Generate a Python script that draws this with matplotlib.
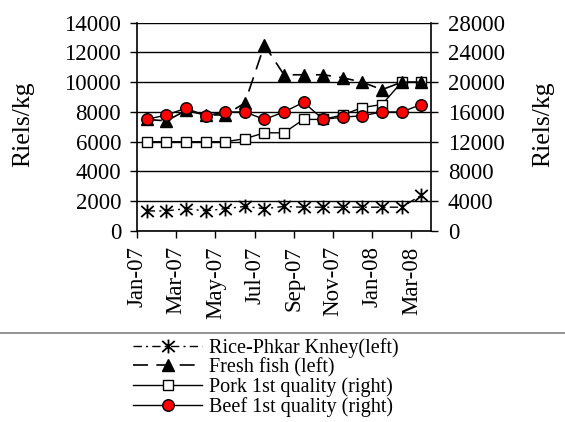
import matplotlib
matplotlib.use("Agg")
import matplotlib.pyplot as plt
from matplotlib.path import Path
from matplotlib.lines import Line2D
from matplotlib.transforms import ScaledTranslation
import numpy as np

# Data (Riels/kg), monthly Jan-07 .. Mar-08
months = ["Jan-07", "Feb-07", "Mar-07", "Apr-07", "May-07", "Jun-07", "Jul-07", "Aug-07",
          "Sep-07", "Oct-07", "Nov-07", "Dec-07", "Jan-08", "Feb-08", "Mar-08"]
tick_labels = ["Jan-07", "Mar-07", "May-07", "Jul-07", "Sep-07", "Nov-07", "Jan-08", "Mar-08"]

rice = [1350, 1350, 1500, 1350, 1500, 1650, 1500, 1650, 1600, 1600, 1600, 1600, 1600, 1600, 2400]
fish = [7500, 7400, 8100, 7800, 7800, 8600, 12500, 10500, 10500, 10500, 10300, 10000, 9500, 10000, 10000]
pork = [12000, 12000, 12000, 12000, 12000, 12400, 13200, 13200, 15000, 15000, 15600, 16600, 17000, 20000, 20000]
beef = [15000, 15600, 16500, 15500, 16000, 16000, 15000, 16000, 17300, 15000, 15300, 15500, 16000, 16000, 17000]

plt.rcParams["font.family"] = ["Liberation Serif", "DejaVu Serif"]

# asterisk marker: vertical bar + X
star = Path([(0, -1), (0, 1), (-0.9, -0.8), (0.9, 0.8), (-0.9, 0.8), (0.9, -0.8)],
            [Path.MOVETO, Path.LINETO, Path.MOVETO, Path.LINETO, Path.MOVETO, Path.LINETO])

x = np.arange(len(months))

fig = plt.figure(figsize=(5.65, 4.22), dpi=100)
ax = fig.add_axes([137 / 565, 1 - 231 / 422, (431 - 137) / 565, (231 - 22.7) / 422])
ax2 = ax.twinx()   # right axis, pork (bottom layer, grid)
ax3 = ax.twinx()   # right axis, beef (top layer)

ax2.set_zorder(1)
ax.set_zorder(2)
ax3.set_zorder(3)
ax.patch.set_visible(False)
ax3.patch.set_visible(False)

# Pork (right)
l_pork, = ax2.plot(x, pork, color="black", lw=1, marker="s", ms=7.5, mfc="white", mec="black", mew=1,
                   label="Pork 1st quality (right)")
# Fish & rice (left)
l_fish, = ax.plot(x, fish, color="black", lw=1.2, ls=(0, (9, 5)), marker="^", ms=8.5, mfc="black",
                  mec="black", label="Fresh fish (left)")
l_rice, = ax.plot(x, rice, color="black", lw=1, ls=(0, (6, 3, 1.5, 3)), marker=star, ms=10, mew=1.3,
                  mec="black", label="Rice-Phkar Knhey(left)")
# Beef (right)
l_beef, = ax3.plot(x, beef, color="black", lw=1, marker="o", ms=8.3, mfc="red", mec="black", mew=1,
                   label="Beef 1st quality (right)")

ax.set_xlim(-0.5, len(months) - 0.5)
ax.set_ylim(0, 14000)
ax.set_yticks(np.arange(0, 14001, 2000))
for a in (ax2, ax3):
    a.set_ylim(0, 28000)
ax2.set_yticks(np.arange(0, 28001, 4000))
ax3.axis("off")

ax2.grid(axis="y", color="black", lw=1)
ax.set_xticks(np.arange(-0.5, len(months) - 1, 2))
ax.set_xticklabels(tick_labels, rotation=90)
for lab in ax.get_xticklabels():
    lab.set_transform(lab.get_transform() + ScaledTranslation(-4 / 100, 0, fig.dpi_scale_trans))

for a in (ax, ax2):
    a.spines["top"].set_visible(False)
ax.spines["right"].set_visible(False)
ax2.spines["left"].set_visible(False)
ax2.spines["bottom"].set_visible(False)
for a in (ax, ax2):
    for s in a.spines.values():
        s.set_linewidth(1.2)

ax.tick_params(axis="y", direction="out", length=5, width=1, labelsize=16.5, pad=6.5)
ax.tick_params(axis="x", direction="out", length=5, width=1, labelsize=16.5, pad=6)
ax2.tick_params(axis="y", direction="out", length=5, width=1, labelsize=16.5, pad=7)

fig.text(23 / 565, 1 - 124.5 / 422, "Riels/kg", rotation=90, ha="center", va="center", fontsize=18.5)
fig.text(543 / 565, 1 - 124.5 / 422, "Riels/kg", rotation=90, ha="center", va="center", fontsize=18.5)

# separator line above legend
fig.add_artist(Line2D([0, 1], [1 - 333 / 422] * 2, transform=fig.transFigure, color="#808080", lw=1.2))

fig.legend(handles=[l_rice, l_fish, l_pork, l_beef], loc="upper left",
           bbox_to_anchor=(133 / 565, 1 - 338 / 422), frameon=False, fontsize=14.5,
           handlelength=3.45, handletextpad=0.3, labelspacing=0.0, borderpad=0, borderaxespad=0)

fig.savefig("out.png", dpi=100, facecolor="white")
